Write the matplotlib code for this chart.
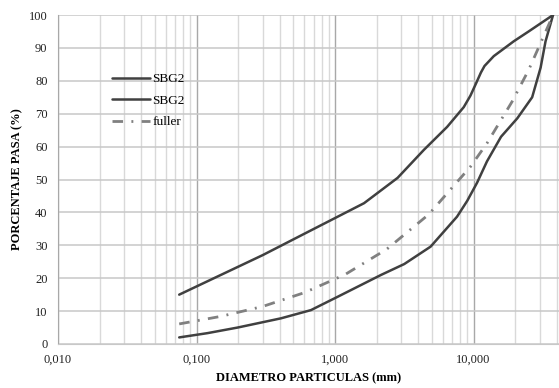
import matplotlib
matplotlib.use("Agg")
import matplotlib.pyplot as plt
from matplotlib.ticker import FixedLocator, LogLocator, NullFormatter

# Data
upper_d = [0.075, 0.15, 0.3, 0.6, 0.94, 1.62, 2.83, 4.38, 6.45, 8.5, 9.5, 10.5, 11.3, 12.0, 14.0, 19.5, 25.0, 37.5]
upper_p = [15, 21, 27, 33.5, 37.7, 42.8, 50.5, 59, 66, 72, 75.5, 79.5, 82.5, 84.5, 87.5, 92, 95, 100]

lower_d = [0.075, 0.12, 0.198, 0.407, 0.67, 1.05, 2.15, 3.16, 4.9, 7.6, 9.0, 10.6, 12.5, 15.8, 20.7, 26.5, 30.5, 33.1, 37.5]
lower_p = [2, 3.3, 5.0, 7.8, 10.3, 14.4, 21, 24.3, 29.6, 38.7, 43.5, 49, 55.5, 63, 68.6, 75, 84, 92, 100]

fuller_d = [0.075, 0.15, 0.3, 0.6, 1.18, 2.36, 4.75, 9.5, 12.5, 19.0, 25.0, 37.5]
fuller_p = [6.1, 8.4, 11.4, 15.6, 21.1, 28.8, 39.4, 53.9, 61.0, 73.7, 83.3, 100]

series_labels = ["SBG2", "SBG2", "fuller"]
xtick_vals = [0.01, 0.1, 1, 10]
xtick_labels = ["0,010", "0,100", "1,000", "10,000"]
ytick_vals = list(range(0, 101, 10))

serif = ["Liberation Serif", "DejaVu Serif"]
plt.rcParams["font.family"] = serif

fig = plt.figure(figsize=(5.59, 3.88), dpi=100)
ax = fig.add_axes([58/559, 1 - 344/388, 1 - 58/559, (344 - 15)/388])

ax.set_xscale("log")
ax.set_xlim(0.01, 41.4)
ax.set_ylim(0, 100)

ax.plot(upper_d, upper_p, color="#404040", lw=1.8, label=series_labels[0],
        solid_capstyle="round", solid_joinstyle="round")
ax.plot(lower_d, lower_p, color="#404040", lw=1.8, label=series_labels[1],
        solid_capstyle="round", solid_joinstyle="round")
ax.plot(fuller_d, fuller_p, color="#808080", lw=2.0, linestyle=(0, (3.8, 3.0, 0.7, 3.0)),
        label=series_labels[2])

ax.xaxis.set_major_locator(FixedLocator(xtick_vals))
ax.set_xticklabels(xtick_labels)
ax.xaxis.set_minor_locator(LogLocator(base=10, subs=range(2, 10)))
ax.xaxis.set_minor_formatter(NullFormatter())
ax.set_yticks(ytick_vals)

ax.grid(True, which="major", axis="x", color="#a8a8a8", lw=1.0)
ax.grid(True, which="minor", axis="x", color="#d9d9d9", lw=1.0)
ax.grid(True, which="major", axis="y", color="#c8c8c8", lw=1.1)
ax.set_axisbelow(True)

for s in ["top", "right"]:
    ax.spines[s].set_visible(False)
ax.spines["left"].set_color("#a8a8a8")
ax.spines["bottom"].set_color("#c8c8c8")

ax.tick_params(axis="both", which="both", length=0, labelsize=9, colors="#222222")
ax.tick_params(axis="y", pad=7.5)
ax.tick_params(axis="x", pad=7)

ax.set_xlabel("DIAMETRO PARTICULAS (mm)", fontsize=9, fontweight="bold")
ax.set_ylabel("PORCENTAJE PASA (%)", fontsize=9, fontweight="bold")
ax.xaxis.set_label_coords(0.5, -0.087)
ax.yaxis.set_label_coords(-0.069, 0.5)

leg = ax.legend(loc="upper left", bbox_to_anchor=(112/559, 1 - 73/388), bbox_transform=fig.transFigure,
                frameon=False, fontsize=9.5, handlelength=2.9, handletextpad=0.15, labelspacing=0.7,
                borderpad=0, borderaxespad=0)

fig.savefig("out.png", dpi=100)
